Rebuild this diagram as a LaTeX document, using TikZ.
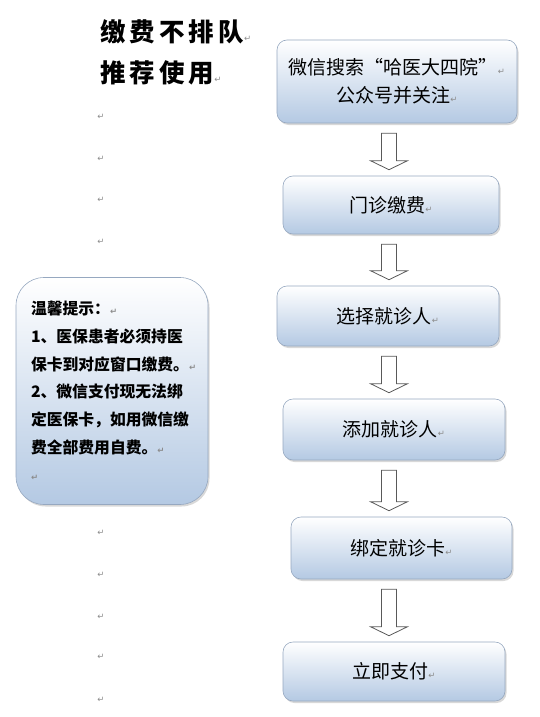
\documentclass[tikz,border=0pt]{standalone}
\usepackage{fontspec}
\setmainfont{Noto Sans CJK SC}
\newfontfamily\titlefont{Noto Sans CJK SC}[UprightFont=* Black,LetterSpace=16]
\newfontfamily\markfont{DejaVu Sans}
\usetikzlibrary{calc,shadows}
\definecolor{boxblue}{RGB}{180,201,227}
\definecolor{boxline}{RGB}{150,168,192}
\newcommand{\retmark}{{\markfont\fontsize{8.5}{8.5}\selectfont\color{black!45}↵}}

\begin{document}
\begin{tikzpicture}[x=1pt,y=-1pt,
  stepbox/.style={draw=boxline,line width=0.6pt,rounded corners=10pt,top color=white,bottom color=boxblue,
    drop shadow={shadow xshift=1.5pt,shadow yshift=-2pt,fill=black!30},
    align=center,inner sep=2pt,font=\fontsize{19}{28}\selectfont},
  notebox/.style={draw=boxline,line width=0.6pt,rounded corners=28pt,top color=white,bottom color=boxblue,
    drop shadow={shadow xshift=1.5pt,shadow yshift=-2pt,fill=black!30},
    align=left,inner sep=0pt,font=\bfseries\fontsize{15.8}{27.7}\selectfont},
  titletext/.style={anchor=west,inner sep=0pt,font=\titlefont\fontsize{25.5}{30}\selectfont},
  retnode/.style={inner sep=0pt},
  flowarrow/.style={draw=black!65,fill=white,line width=0.8pt,line join=miter}]
\useasboundingbox (0,0) rectangle (540,717);
% --- heading ---
\node[titletext] (head1) at (100,32) {缴费不排队\retmark};
\node[titletext] (head2) at (100,73) {推荐使用\retmark};
% --- empty paragraphs down the left ---
\foreach \y [count=\i] in {117,159,200,242,533,575,617,657,700}
  \node[retnode] (blank\i) at (101,\y) {\retmark};
% --- hint box ---
\node[notebox,minimum width=192pt,minimum height=227pt,text width=162pt] (hint) at (112,391)
  {温馨提示：\retmark\\1、医保患者必须持医\\保卡到对应窗口缴费。\retmark\\2、微信支付现无法绑\\定医保卡，如用微信缴\\费全部费用自费。\retmark\\\retmark};
% --- steps ---
\node[stepbox,minimum width=240pt,minimum height=83pt] (s1) at (397,81.5) {微信搜索“哈医大四院”\retmark\\公众号并关注\retmark};
\node[stepbox,minimum width=216pt,minimum height=58pt] (s2) at (391,205)   {门诊缴费\retmark};
\node[stepbox,minimum width=222pt,minimum height=60pt] (s3) at (388,316)   {选择就诊人\retmark};
\node[stepbox,minimum width=222pt,minimum height=61pt] (s4) at (394,429.5) {添加就诊人\retmark};
\node[stepbox,minimum width=221pt,minimum height=62pt] (s5) at (401.5,548) {绑定就诊卡\retmark};
\node[stepbox,minimum width=222pt,minimum height=59pt] (s6) at (394,671.5) {立即支付\retmark};
% --- block arrows between steps ---
\foreach \a/\b in {s1/s2,s2/s3,s3/s4,s4/s5,s5/s6}
  \draw[flowarrow] let \p1=(\a.south), \p2=(\b.north) in
    (381.5pt,\y1-10pt) -- (396.5pt,\y1-10pt) -- (396.5pt,\y2+15pt) -- (407.5pt,\y2+15pt)
    -- (389pt,\y2+6pt) -- (370.5pt,\y2+15pt) -- (381.5pt,\y2+15pt) -- cycle;
\end{tikzpicture}
\end{document}
